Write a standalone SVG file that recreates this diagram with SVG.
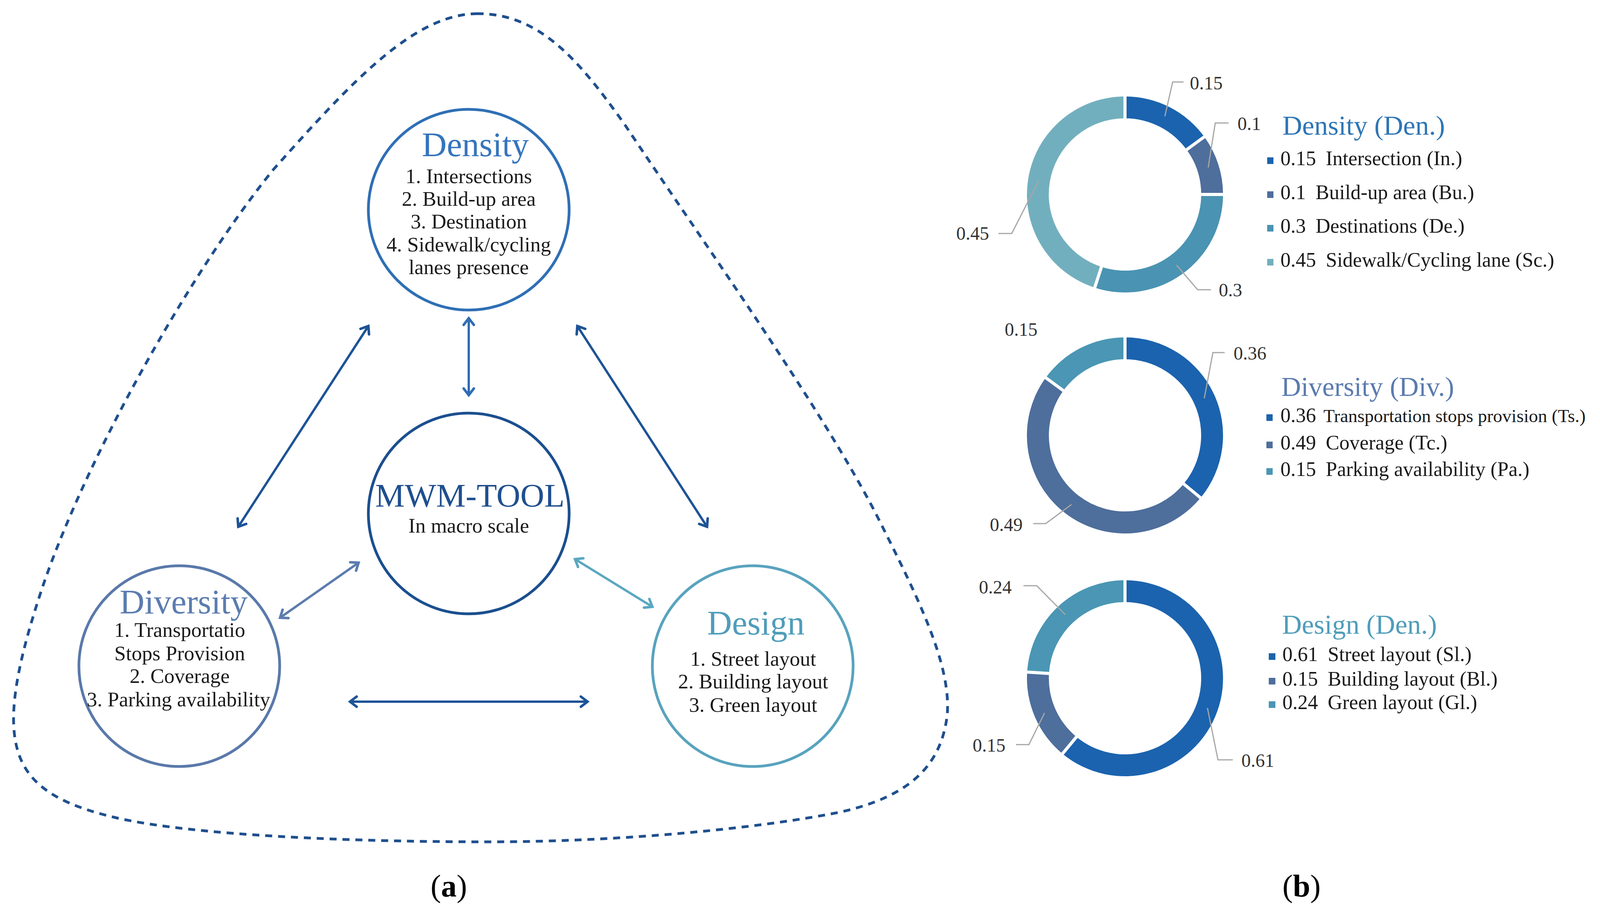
<svg xmlns="http://www.w3.org/2000/svg" width="4190" height="2328" viewBox="0 0 4190 2328">
<style>
  text { font-family: "Liberation Serif", "DejaVu Serif", serif; }
  .body { font-size: 53px; fill: #1a1a1a; text-anchor: middle; }
  .title { font-size: 88px; text-anchor: middle; }
  .node { fill: #ffffff; stroke-width: 7; }
  .conn { fill: none; stroke-width: 6; stroke-linecap: butt; }
  .lead { fill: none; stroke: #a6a6a6; stroke-width: 3; }
  .val { font-size: 48px; fill: #333333; }
  .leg { font-size: 52px; fill: #1a1a1a; }
  .ltitle { font-size: 70px; }
  .sep { stroke: #ffffff; stroke-width: 8; }
  .cap { font-size: 80px; fill: #000000; text-anchor: middle; }
  .head { fill: none; stroke-width: 6.5; stroke-linecap: round; stroke-linejoin: miter; stroke-miterlimit: 6; }
</style>
<defs>
  <marker id="mDark" viewBox="-40 -30 50 60" markerWidth="50" markerHeight="60" refX="0" refY="0" markerUnits="userSpaceOnUse" orient="auto-start-reverse">
    <path class="head" d="M -17 -13 L 0 0 L -17 13" stroke="#1d5396"/>
  </marker>
  <marker id="mMid" viewBox="-40 -30 50 60" markerWidth="50" markerHeight="60" refX="0" refY="0" markerUnits="userSpaceOnUse" orient="auto-start-reverse">
    <path class="head" d="M -17 -13 L 0 0 L -17 13" stroke="#2f6db4"/>
  </marker>
  <marker id="mSlate" viewBox="-40 -30 50 60" markerWidth="50" markerHeight="60" refX="0" refY="0" markerUnits="userSpaceOnUse" orient="auto-start-reverse">
    <path class="head" d="M -17 -13 L 0 0 L -17 13" stroke="#5b7cae"/>
  </marker>
  <marker id="mTeal" viewBox="-40 -30 50 60" markerWidth="50" markerHeight="60" refX="0" refY="0" markerUnits="userSpaceOnUse" orient="auto-start-reverse">
    <path class="head" d="M -17 -13 L 0 0 L -17 13" stroke="#5aa7c1"/>
  </marker>
</defs>
<rect x="0" y="0" width="4190" height="2328" fill="#ffffff"/>

<!-- dashed boundary -->
<g id="boundary">
  <path d="M 1223 35 C 1060 35, 900 210, 700 434 C 500 680, 230 1150, 110 1500 C 60 1650, 20 1800, 40 1900 C 60 2010, 150 2060, 300 2095 C 500 2140, 900 2156, 1250 2156 C 1600 2156, 1950 2120, 2150 2080 C 2330 2040, 2410 1960, 2425 1830 C 2435 1700, 2350 1530, 2244 1319 C 2100 1040, 1800 620, 1600 320 C 1480 150, 1380 35, 1223 35 Z" fill="none" stroke="#1f4f8e" stroke-width="7" stroke-dasharray="18 15"/>
</g>

<!-- connectors -->
<g id="connectors">
  <line class="conn" x1="1200" y1="815" x2="1200" y2="1012" stroke="#2f6db4" marker-start="url(#mMid)" marker-end="url(#mMid)"/>
  <line class="conn" x1="943" y1="835" x2="610" y2="1349" stroke="#1d5396" marker-start="url(#mDark)" marker-end="url(#mDark)"/>
  <line class="conn" x1="1478" y1="835" x2="1810" y2="1349" stroke="#1d5396" marker-start="url(#mDark)" marker-end="url(#mDark)"/>
  <line class="conn" x1="717" y1="1582" x2="918" y2="1441" stroke="#5b7cae" marker-start="url(#mSlate)" marker-end="url(#mSlate)"/>
  <line class="conn" x1="1472" y1="1432" x2="1670" y2="1554" stroke="#5aa7c1" marker-start="url(#mTeal)" marker-end="url(#mTeal)"/>
  <line class="conn" x1="896" y1="1797" x2="1504" y2="1797" stroke="#1d5396" marker-start="url(#mDark)" marker-end="url(#mDark)"/>
</g>

<!-- nodes -->
<g id="density">
  <circle class="node" cx="1200" cy="537" r="257" stroke="#2f6fb5"/>
  <text class="title" x="1217" y="400" fill="#3675bc">Density</text>
  <text class="body" x="1200" y="469">1. Intersections</text>
  <text class="body" x="1200" y="527">2. Build-up area</text>
  <text class="body" x="1200" y="585">3. Destination</text>
  <text class="body" x="1200" y="644">4. Sidewalk/cycling</text>
  <text class="body" x="1200" y="702">lanes presence</text>
</g>

<g id="mwm">
  <circle class="node" cx="1200" cy="1315" r="257" stroke="#1b4f8f"/>
  <text class="title" x="1203" y="1298" fill="#1f4f8e" style="font-size:85px">MWM-TOOL</text>
  <text class="body" x="1200" y="1364">In macro scale</text>
</g>

<g id="diversity">
  <circle class="node" cx="459" cy="1706" r="257" stroke="#5a79aa"/>
  <text class="title" x="470" y="1571" fill="#5b7cb0">Diversity</text>
  <text class="body" x="460" y="1631">1. Transportatio</text>
  <text class="body" x="460" y="1691">Stops Provision</text>
  <text class="body" x="460" y="1749">2. Coverage</text>
  <text class="body" x="457" y="1809">3. Parking availability</text>
</g>

<g id="design">
  <circle class="node" cx="1927" cy="1706" r="257" stroke="#58a3be"/>
  <text class="title" x="1935" y="1625" fill="#4f9dba">Design</text>
  <text class="body" x="1928" y="1705">1. Street layout</text>
  <text class="body" x="1928" y="1763">2. Building layout</text>
  <text class="body" x="1928" y="1823">3. Green layout</text>
</g>

<text class="cap" x="1149" y="2296">(<tspan font-weight="bold">a</tspan>)</text>

<!-- chart 1: Density -->
<g id="chart-density">
  <path d="M 2880 247 A 251 251 0 0 1 3083.1 350.5 L 3037.8 383.4 A 195 195 0 0 0 2880 303 Z" fill="#1b63ae"/>
  <path d="M 3083.1 350.5 A 251 251 0 0 1 3131 498 L 3075 498 A 195 195 0 0 0 3037.8 383.4 Z" fill="#4e6e9c"/>
  <path d="M 3131 498 A 251 251 0 0 1 2802.4 736.7 L 2819.7 683.5 A 195 195 0 0 0 3075 498 Z" fill="#4a93b3"/>
  <path d="M 2802.4 736.7 A 251 251 0 0 1 2880 247 L 2880 303 A 195 195 0 0 0 2819.7 683.5 Z" fill="#72afbe"/>
  <line class="sep" x1="2880" y1="310" x2="2880" y2="240"/>
  <line class="sep" x1="3032.1" y1="387.5" x2="3088.7" y2="346.3"/>
  <line class="sep" x1="3068" y1="498" x2="3138" y2="498"/>
  <line class="sep" x1="2821.9" y1="676.8" x2="2800.3" y2="743.4"/>
  <path class="lead" d="M 2982 298 L 3002 210 L 3030 210"/>
  <path class="lead" d="M 3093 429 L 3111 315 L 3145 315"/>
  <path class="lead" d="M 3012 679 L 3066 742 L 3100 742"/>
  <path class="lead" d="M 2659 463 L 2590 598 L 2556 598"/>
  <text class="val" x="3046" y="229">0.15</text>
  <text class="val" x="3168" y="333">0.1</text>
  <text class="val" x="3120" y="759">0.3</text>
  <text class="val" x="2532" y="614" text-anchor="end">0.45</text>
  <text class="ltitle" x="3283" y="345" fill="#2e75b6">Density (Den.)</text>
  <rect x="3244" y="403" width="16" height="17" fill="#1b63ae"/>
  <text class="leg" x="3278" y="423">0.15<tspan dx="12"> Intersection (In.)</tspan></text>
  <rect x="3244" y="490" width="16" height="17" fill="#4e6e9c"/>
  <text class="leg" x="3278" y="510">0.1<tspan dx="12"> Build-up area (Bu.)</tspan></text>
  <rect x="3244" y="576" width="16" height="17" fill="#4a93b3"/>
  <text class="leg" x="3278" y="596">0.3<tspan dx="12"> Destinations (De.)</tspan></text>
  <rect x="3244" y="663" width="16" height="17" fill="#72afbe"/>
  <text class="leg" x="3278" y="683">0.45<tspan dx="12"> Sidewalk/Cycling lane (Sc.)</tspan></text>
</g>

<!-- chart 2: Diversity -->
<g id="chart-diversity">
  <path d="M 2880 864 A 251 251 0 0 1 3073.4 1275 L 3030.2 1239.3 A 195 195 0 0 0 2880 920 Z" fill="#1b63ae"/>
  <path d="M 3073.4 1275 A 251 251 0 0 1 2676.9 967.5 L 2722.2 1000.4 A 195 195 0 0 0 3030.2 1239.3 Z" fill="#4e6e9c"/>
  <path d="M 2676.9 967.5 A 251 251 0 0 1 2880 864 L 2880 920 A 195 195 0 0 0 2722.2 1000.4 Z" fill="#4a96b4"/>
  <line class="sep" x1="2880" y1="927" x2="2880" y2="857"/>
  <line class="sep" x1="3024.9" y1="1234.8" x2="3078.8" y2="1279.4"/>
  <line class="sep" x1="2727.9" y1="1004.5" x2="2671.3" y2="963.3"/>
  <path class="lead" d="M 3083 1020 L 3105 903 L 3135 903"/>
  <path class="lead" d="M 2743 1292 L 2677 1341 L 2645 1341"/>
  <text class="val" x="3158" y="921">0.36</text>
  <text class="val" x="2618" y="1360" text-anchor="end">0.49</text>
  <text class="val" x="2572" y="860">0.15</text>
  <text class="ltitle" x="3280" y="1014" fill="#5b7baf">Diversity (Div.)</text>
  <rect x="3242" y="1061" width="16" height="17" fill="#1b63ae"/>
  <text class="leg" x="3278" y="1081">0.36</text>
  <text class="leg" x="3388" y="1081" style="font-size:47px">Transportation stops provision (Ts.)</text>
  <rect x="3242" y="1131" width="16" height="17" fill="#4e6e9c"/>
  <text class="leg" x="3278" y="1151">0.49<tspan dx="12"> Coverage (Tc.)</tspan></text>
  <rect x="3242" y="1199" width="16" height="17" fill="#4a96b4"/>
  <text class="leg" x="3278" y="1219">0.15<tspan dx="12"> Parking availability (Pa.)</tspan></text>
</g>

<!-- chart 3: Design -->
<g id="chart-design">
  <path d="M 2880 1486 A 251 251 0 1 1 2720 1930.4 L 2755.7 1887.2 A 195 195 0 1 0 2880 1542 Z" fill="#1b63ae"/>
  <path d="M 2720 1930.4 A 251 251 0 0 1 2629.5 1721.2 L 2685.4 1724.8 A 195 195 0 0 0 2755.7 1887.2 Z" fill="#4e6e9c"/>
  <path d="M 2629.5 1721.2 A 251 251 0 0 1 2880 1486 L 2880 1542 A 195 195 0 0 0 2685.4 1724.8 Z" fill="#4a96b4"/>
  <line class="sep" x1="2880" y1="1549" x2="2880" y2="1479"/>
  <line class="sep" x1="2760.2" y1="1881.9" x2="2715.6" y2="1935.8"/>
  <line class="sep" x1="2692.4" y1="1725.2" x2="2622.5" y2="1720.8"/>
  <path class="lead" d="M 3091 1813 L 3118 1946 L 3156 1946"/>
  <path class="lead" d="M 2674 1826 L 2634 1907 L 2601 1907"/>
  <path class="lead" d="M 2727 1574 L 2654 1500 L 2620 1500"/>
  <text class="val" x="3178" y="1964">0.61</text>
  <text class="val" x="2574" y="1925" text-anchor="end">0.15</text>
  <text class="val" x="2590" y="1520" text-anchor="end">0.24</text>
  <text class="ltitle" x="3282" y="1623" fill="#4f9dba">Design (Den.)</text>
  <rect x="3248" y="1673" width="17" height="17" fill="#1b63ae"/>
  <text class="leg" x="3283" y="1693">0.61<tspan dx="12"> Street layout (Sl.)</tspan></text>
  <rect x="3248" y="1736" width="17" height="17" fill="#4e6e9c"/>
  <text class="leg" x="3283" y="1756">0.15<tspan dx="12"> Building layout (Bl.)</tspan></text>
  <rect x="3248" y="1796" width="17" height="17" fill="#4a96b4"/>
  <text class="leg" x="3283" y="1816">0.24<tspan dx="12"> Green layout (Gl.)</tspan></text>
</g>

<text class="cap" x="3332" y="2296">(<tspan font-weight="bold">b</tspan>)</text>
</svg>
